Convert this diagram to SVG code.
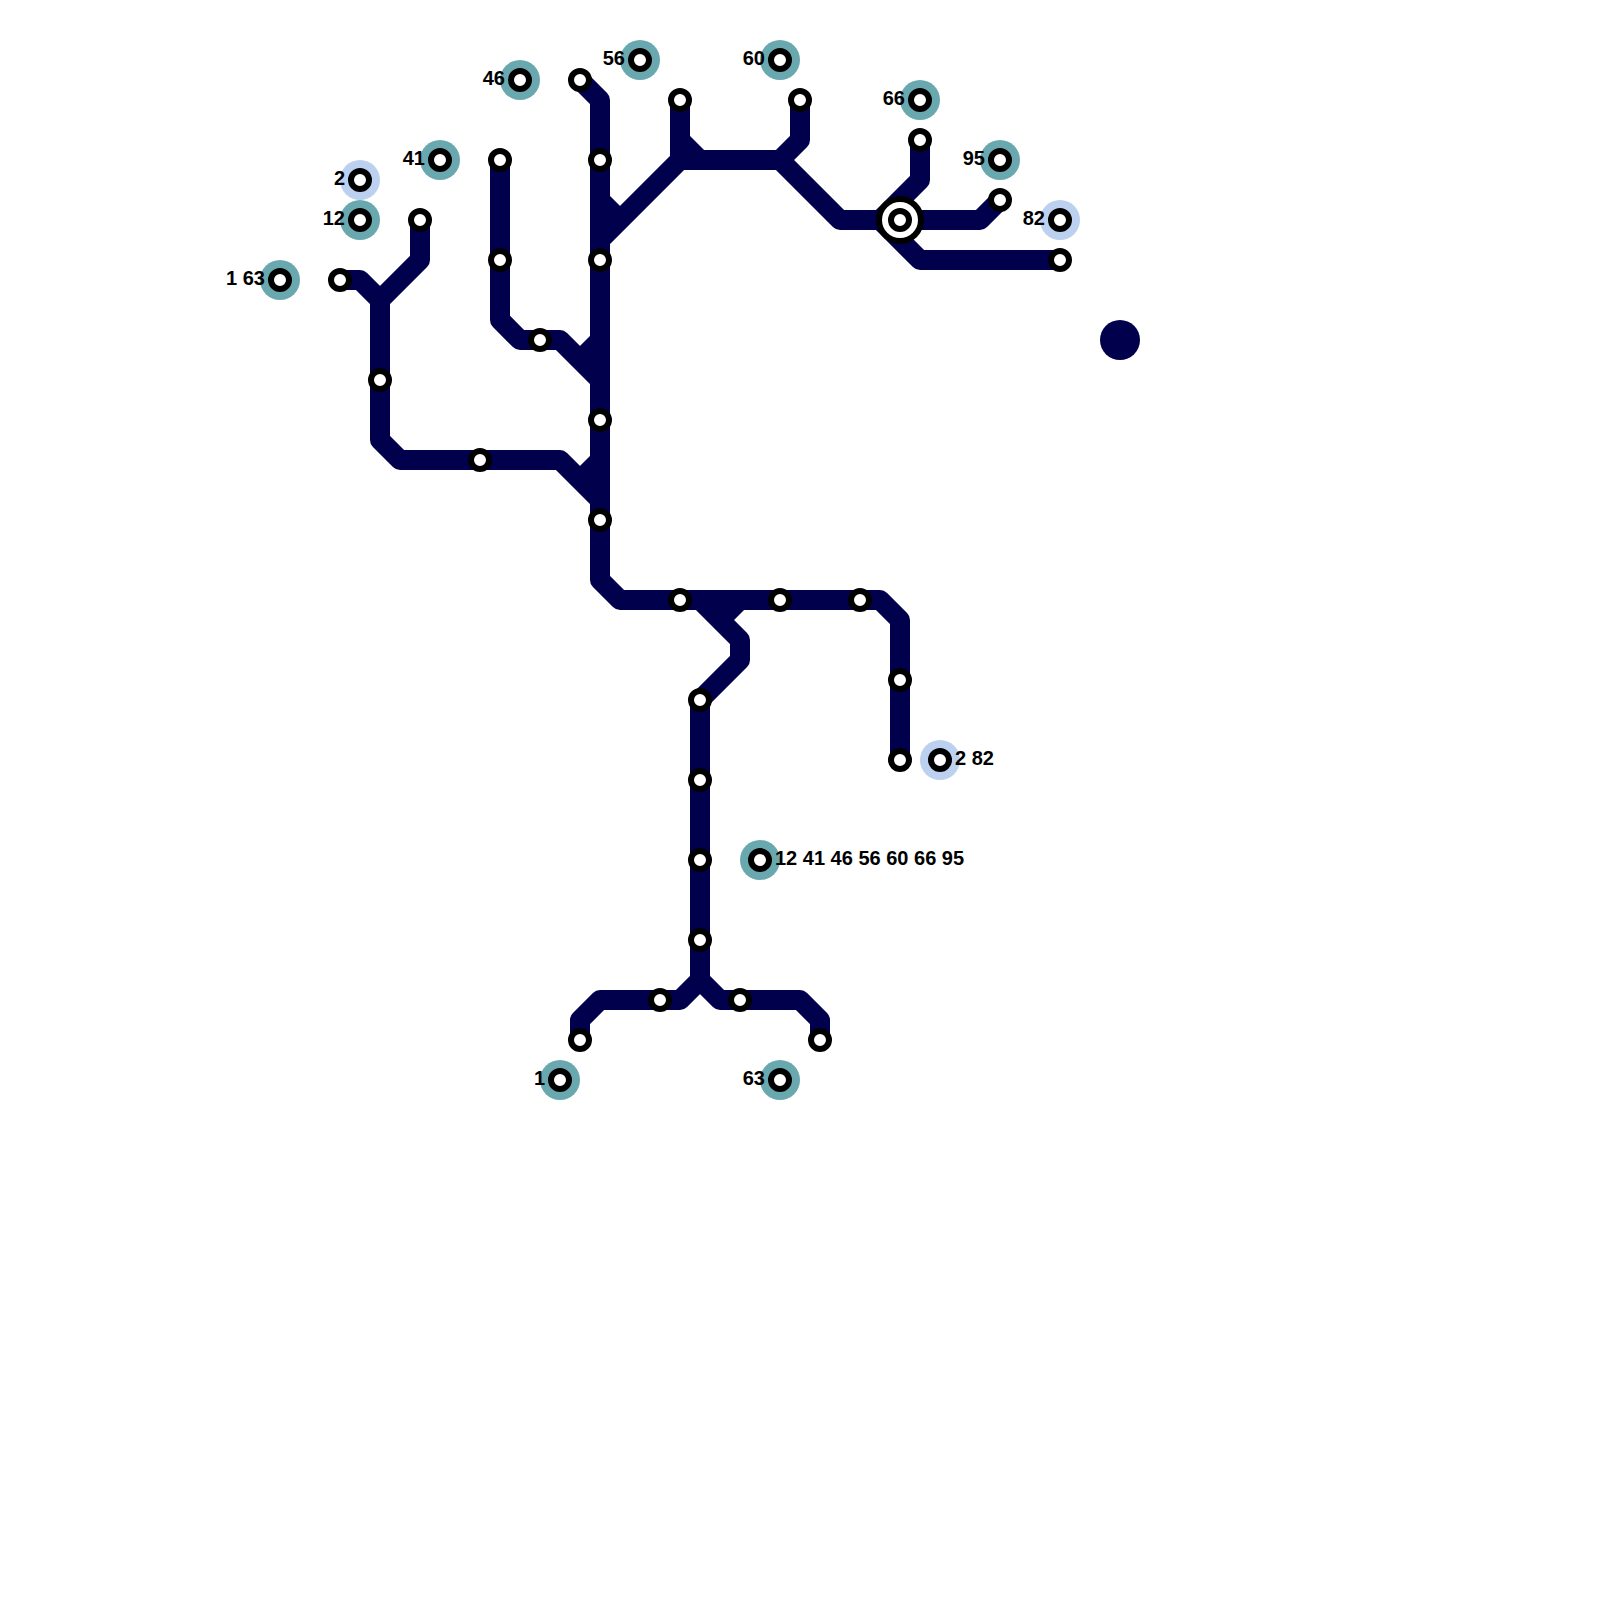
<svg xmlns="http://www.w3.org/2000/svg" width="1600" height="1600" viewBox="0 0 1600 1600">
<style>
.bg{fill:#ffffff}
.ln{fill:none;stroke:#00004d;stroke-width:20;stroke-linejoin:round;stroke-linecap:butt}
.st{fill:#ffffff;stroke:#000000;stroke-width:6}
.hub{fill:#ffffff;stroke:#000000;stroke-width:6}
.teal{fill:#6aa8b0}
.blue{fill:#bcd0f0}
.dot{fill:#00004d}
text{font-family:"Liberation Sans",Arial,sans-serif;font-size:20px;font-weight:bold;fill:#000000}
.e{text-anchor:end}
</style>
<rect class="bg" width="1600" height="1600"/>
<g id="connectors">
<path class="ln" d="M340 280H360L380 300V440L400 460H560L600 500"/>
<path class="ln" d="M420 220V260L380 300"/>
<path class="ln" d="M500 160V320L520 340H560L600 380"/>
<path class="ln" d="M580 80L600 100V580L620 600H880L900 620V760"/>
<path class="ln" d="M600 340L580 360"/>
<path class="ln" d="M600 460L580 480"/>
<path class="ln" d="M600 200L620 220"/>
<path class="ln" d="M600 240L680 160H780L840 220H980L1000 200"/>
<path class="ln" d="M680 100V160"/>
<path class="ln" d="M680 140L700 160"/>
<path class="ln" d="M800 100V140L780 160"/>
<path class="ln" d="M920 140V180L880 220"/>
<path class="ln" d="M880 220L920 260H1060"/>
<path class="ln" d="M700 600L740 640V660L700 700V980L680 1000H600L580 1020V1040"/>
<path class="ln" d="M740 600L720 620"/>
<path class="ln" d="M700 980L720 1000H800L820 1020V1040"/>
</g>
<g id="big-dot"><circle class="dot" cx="1120" cy="340" r="20"/></g>
<g id="n-1-63"><circle class="teal" cx="280" cy="280" r="20"/><circle class="st" cx="280" cy="280" r="9"/><text class="e" x="265" y="285">1 63</text></g>
<g id="n-2"><circle class="blue" cx="360" cy="180" r="20"/><circle class="st" cx="360" cy="180" r="9"/><text class="e" x="345" y="185">2</text></g>
<g id="n-12"><circle class="teal" cx="360" cy="220" r="20"/><circle class="st" cx="360" cy="220" r="9"/><text class="e" x="345" y="225">12</text></g>
<g id="n-41"><circle class="teal" cx="440" cy="160" r="20"/><circle class="st" cx="440" cy="160" r="9"/><text class="e" x="425" y="165">41</text></g>
<g id="n-46"><circle class="teal" cx="520" cy="80" r="20"/><circle class="st" cx="520" cy="80" r="9"/><text class="e" x="505" y="85">46</text></g>
<g id="n-56"><circle class="teal" cx="640" cy="60" r="20"/><circle class="st" cx="640" cy="60" r="9"/><text class="e" x="625" y="65">56</text></g>
<g id="n-60"><circle class="teal" cx="780" cy="60" r="20"/><circle class="st" cx="780" cy="60" r="9"/><text class="e" x="765" y="65">60</text></g>
<g id="n-66"><circle class="teal" cx="920" cy="100" r="20"/><circle class="st" cx="920" cy="100" r="9"/><text class="e" x="905" y="105">66</text></g>
<g id="n-95"><circle class="teal" cx="1000" cy="160" r="20"/><circle class="st" cx="1000" cy="160" r="9"/><text class="e" x="985" y="165">95</text></g>
<g id="n-82"><circle class="blue" cx="1060" cy="220" r="20"/><circle class="st" cx="1060" cy="220" r="9"/><text class="e" x="1045" y="225">82</text></g>
<g id="n-2-82"><circle class="blue" cx="940" cy="760" r="20"/><circle class="st" cx="940" cy="760" r="9"/><text x="955" y="765">2 82</text></g>
<g id="n-multi"><circle class="teal" cx="760" cy="860" r="20"/><circle class="st" cx="760" cy="860" r="9"/><text x="775" y="865">12 41 46 56 60 66 95</text></g>
<g id="n-1"><circle class="teal" cx="560" cy="1080" r="20"/><circle class="st" cx="560" cy="1080" r="9"/><text class="e" x="545" y="1085">1</text></g>
<g id="n-63"><circle class="teal" cx="780" cy="1080" r="20"/><circle class="st" cx="780" cy="1080" r="9"/><text class="e" x="765" y="1085">63</text></g>
<g id="s-340-280"><circle class="st" cx="340" cy="280" r="9"/></g>
<g id="s-420-220"><circle class="st" cx="420" cy="220" r="9"/></g>
<g id="s-380-380"><circle class="st" cx="380" cy="380" r="9"/></g>
<g id="s-480-460"><circle class="st" cx="480" cy="460" r="9"/></g>
<g id="s-500-160"><circle class="st" cx="500" cy="160" r="9"/></g>
<g id="s-500-260"><circle class="st" cx="500" cy="260" r="9"/></g>
<g id="s-540-340"><circle class="st" cx="540" cy="340" r="9"/></g>
<g id="s-580-80"><circle class="st" cx="580" cy="80" r="9"/></g>
<g id="s-600-160"><circle class="st" cx="600" cy="160" r="9"/></g>
<g id="s-600-260"><circle class="st" cx="600" cy="260" r="9"/></g>
<g id="s-600-420"><circle class="st" cx="600" cy="420" r="9"/></g>
<g id="s-600-520"><circle class="st" cx="600" cy="520" r="9"/></g>
<g id="s-680-100"><circle class="st" cx="680" cy="100" r="9"/></g>
<g id="s-800-100"><circle class="st" cx="800" cy="100" r="9"/></g>
<g id="s-920-140"><circle class="st" cx="920" cy="140" r="9"/></g>
<g id="s-1000-200"><circle class="st" cx="1000" cy="200" r="9"/></g>
<g id="s-1060-260"><circle class="st" cx="1060" cy="260" r="9"/></g>
<g id="hub-900-220"><circle class="hub" cx="900" cy="220" r="21"/><circle class="st" cx="900" cy="220" r="9"/></g>
<g id="s-680-600"><circle class="st" cx="680" cy="600" r="9"/></g>
<g id="s-780-600"><circle class="st" cx="780" cy="600" r="9"/></g>
<g id="s-860-600"><circle class="st" cx="860" cy="600" r="9"/></g>
<g id="s-900-680"><circle class="st" cx="900" cy="680" r="9"/></g>
<g id="s-900-760"><circle class="st" cx="900" cy="760" r="9"/></g>
<g id="s-700-700"><circle class="st" cx="700" cy="700" r="9"/></g>
<g id="s-700-780"><circle class="st" cx="700" cy="780" r="9"/></g>
<g id="s-700-860"><circle class="st" cx="700" cy="860" r="9"/></g>
<g id="s-700-940"><circle class="st" cx="700" cy="940" r="9"/></g>
<g id="s-660-1000"><circle class="st" cx="660" cy="1000" r="9"/></g>
<g id="s-740-1000"><circle class="st" cx="740" cy="1000" r="9"/></g>
<g id="s-580-1040"><circle class="st" cx="580" cy="1040" r="9"/></g>
<g id="s-820-1040"><circle class="st" cx="820" cy="1040" r="9"/></g>
</svg>
